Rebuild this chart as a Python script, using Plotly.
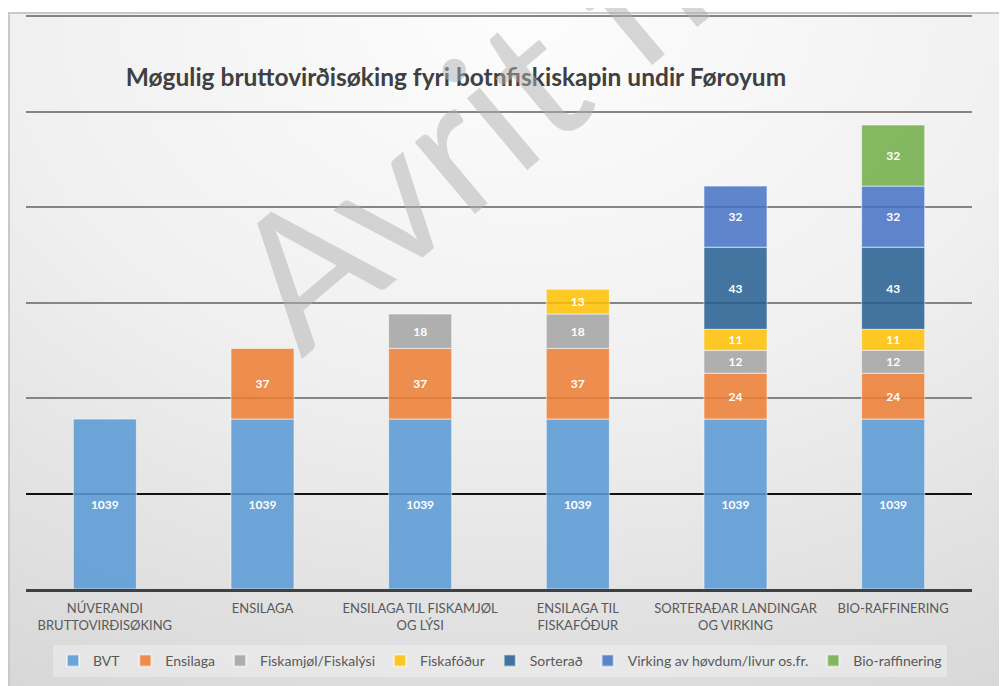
import base64
import plotly.graph_objects as go

# ---------------- data ----------------
categories = [
    "NÚVERANDI<br>BRUTTOVIRÐISØKING",
    "ENSILAGA",
    "ENSILAGA TIL FISKAMJØL<br>OG LÝSI",
    "ENSILAGA TIL<br>FISKAFÓÐUR",
    "SORTERAÐAR LANDINGAR<br>OG VIRKING",
    "BIO-RAFFINERING",
]
bvt = [1039, 1039, 1039, 1039, 1039, 1039]
ensilaga = [None, 37, 37, 37, 24, 24]
fiskamjol = [None, None, 18, 18, 12, 12]
fiskafodur = [None, None, None, 13, 11, 11]
sorterad = [None, None, None, None, 43, 43]
virking = [None, None, None, None, 32, 32]
bio = [None, None, None, None, None, 32]

series_names = ["BVT", "Ensilaga", "Fiskamjøl/Fiskalýsi", "Fiskafóður",
                "Sorterað", "Virking av høvdum/livur os.fr.", "Bio-raffinering"]
series_values = [bvt, ensilaga, fiskamjol, fiskafodur, sorterad, virking, bio]
series_colors = ["rgba(91,155,213,0.88)", "rgba(237,125,49,0.85)",
                 "rgba(165,165,165,0.88)", "rgba(255,192,0,0.85)",
                 "rgba(37,94,145,0.85)", "rgba(68,114,196,0.85)",
                 "rgba(112,173,71,0.85)"]

Y_MIN, Y_MAX, Y_STEP = 950, 1250, 50

# ---------------- layout geometry ----------------
# the page body has an 8px margin, so page pixel = figure pixel + 8
OFF = 8
W, H = 1007, 686
ML, MR, MT, MB = 26 - OFF, W - (972 - OFF), 15 - OFF, H - (589 - OFF)
PW, PH = W - ML - MR, H - MT - MB


def px_x(px):
    return (px - OFF - ML) / PW


def px_y(py):
    return (H - MB - (py - OFF)) / PH


FONT = "Lato, 'Open Sans', sans-serif"

fig = go.Figure()
running = [Y_MIN] * len(categories)
for name, vals, col in zip(series_names, series_values, series_colors):
    bases, heights, texts = [], [], []
    for i, v in enumerate(vals):
        if v is None:
            bases.append(None); heights.append(None); texts.append("")
            continue
        if name == "BVT":
            bases.append(Y_MIN); heights.append(v - Y_MIN)
            running[i] = v
        else:
            bases.append(running[i]); heights.append(v)
            running[i] = running[i] + v
        texts.append(str(v))
    fig.add_trace(go.Bar(
        x=categories, y=heights, base=bases, name=name,
        marker=dict(color=col, line=dict(color="rgba(255,255,255,0.55)", width=1)),
        text=texts, textposition="inside", insidetextanchor="middle",
        textangle=0, constraintext="none",
        textfont=dict(family=FONT, size=12, color="white", weight="bold"),
        hoverinfo="skip",
    ))

# background gradient image
svg = '''<svg xmlns="http://www.w3.org/2000/svg" width="999" height="674" viewBox="0 0 999 674" preserveAspectRatio="none">
<defs><radialGradient id="g" cx="0.47" cy="0.0" r="1.05">
<stop offset="0" stop-color="#fdfdfd"/><stop offset="0.45" stop-color="#f0f0f0"/>
<stop offset="1" stop-color="#d3d3d3"/></radialGradient></defs>
<rect x="1" y="1" width="1100" height="800" fill="url(#g)" stroke="#c9c9c9" stroke-width="2"/>
</svg>'''
src = "data:image/svg+xml;base64," + base64.b64encode(svg.encode()).decode()

fig.update_layout(
    width=W, height=H,
    margin=dict(l=ML, r=MR, t=MT, b=MB, pad=0, autoexpand=False),
    barmode="overlay", bargap=0.6,
    paper_bgcolor="white", plot_bgcolor="rgba(0,0,0,0)",
    font=dict(family=FONT, color="#595959"),
    title=dict(text="<b>Møgulig bruttovirðisøking fyri botnfiskiskapin undir Føroyum</b>",
               x=(456 - OFF) / W, xanchor="center", y=1 - (77 - OFF) / H, yanchor="middle",
               font=dict(family=FONT, size=24.5, color="#404040")),
    xaxis=dict(showline=True, linecolor="#404040", linewidth=3, ticks="",
               tickfont=dict(family=FONT, size=13, color="#595959"),
               ticklabelstandoff=5, showgrid=False),
    yaxis=dict(range=[Y_MIN, Y_MAX + 0.6], dtick=Y_STEP, tick0=Y_MIN,
               showticklabels=False, gridcolor="#858585", gridwidth=1.5,
               zeroline=False, showline=False),
    yaxis2=dict(range=[Y_MIN, Y_MAX + 0.6], overlaying="y", tickvals=[1000],
                showticklabels=False, gridcolor="#111111", gridwidth=1.5,
                zeroline=False, showline=False),
    legend=dict(orientation="h", x=px_x(500), xanchor="center", y=px_y(645), yanchor="top",
                bgcolor="rgba(255,255,255,0.3)", font=dict(family=FONT, size=14, color="#595959"),
                traceorder="normal", itemsizing="constant"),
    images=[dict(source=src, xref="paper", yref="paper", x=px_x(8), y=px_y(12),
                 sizex=(W - 8) / PW, sizey=(H - 12) / PH, xanchor="left", yanchor="top",
                 sizing="stretch", layer="below")],
    annotations=[dict(text="Avrit frá", xref="paper", yref="paper",
                      x=px_x(508), y=px_y(92), xanchor="center", yanchor="middle",
                      textangle=-40, showarrow=False,
                      font=dict(family=FONT, size=185, color="rgba(175,175,175,0.5)"))],
)
# dummy trace to activate yaxis2 grid
fig.add_trace(go.Scatter(x=[categories[0]], y=[None], yaxis="y2", showlegend=False, hoverinfo="skip"))

fig.write_html("out.html")
